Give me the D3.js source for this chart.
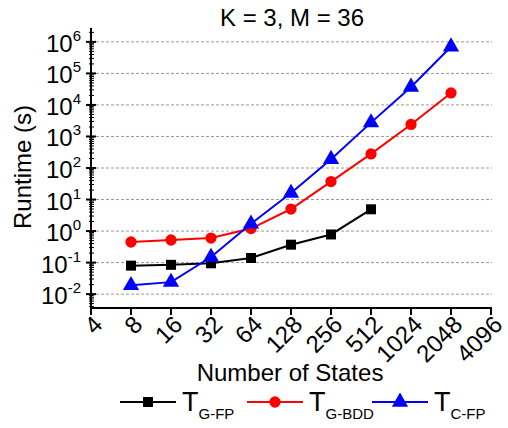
<!DOCTYPE html>
<html>
<head>
<meta charset="utf-8">
<script src="https://cdn.jsdelivr.net/npm/d3@7"></script>
<style>
  body { margin: 0; background: #fff; }
  svg { font-family: Arial, "Liberation Sans", sans-serif; }
</style>
</head>
<body>
<div id="chart"></div>
<script>
// number of states on the x axis
const states = [8, 16, 32, 64, 128, 256, 512, 1024, 2048];
const xTicks = [4, 8, 16, 32, 64, 128, 256, 512, 1024, 2048, 4096];
const yExponents = [-2, -1, 0, 1, 2, 3, 4, 5, 6];

// runtimes in seconds
const tGFP = [0.08, 0.085, 0.095, 0.14, 0.37, 0.78, 4.9];
const tGBDD = [0.45, 0.52, 0.6, 1.2, 5.0, 37, 280, 2400, 24000];
const tCFP = [0.019, 0.024, 0.15, 1.7, 16, 190, 2750, 37000, 700000];

const series = [
  { name: 'G-FP', values: tGFP, color: '#000000', symbol: d3.symbolSquare, size: 100 },
  { name: 'G-BDD', values: tGBDD, color: '#ff0000', symbol: d3.symbolCircle, size: 100 },
  { name: 'C-FP', values: tCFP, color: '#0000ff', symbol: d3.symbolTriangle, size: 115 }
];

const width = 508;
const height = 428;

const svg = d3.select('#chart')
  .append('svg')
  .attr('width', width)
  .attr('height', height);

const x = d3.scaleLog().base(2)
  .domain([4, 4096])
  .range([91, 491]);

const y = d3.scaleLog()
  .domain([Math.pow(10, -2.44), Math.pow(10, 6.44)])
  .range([308, 28]);

// dashed grid
svg.append('g')
  .selectAll('line')
  .data(yExponents)
  .enter()
  .append('line')
  .attr('x1', 91)
  .attr('x2', 492)
  .attr('y1', d => y(Math.pow(10, d)))
  .attr('y2', d => y(Math.pow(10, d)))
  .attr('stroke', '#999')
  .attr('stroke-width', 1)
  .attr('stroke-dasharray', '3,2');

// y axis with minor ticks
const minor = [];
for (let e = -3; e <= 6; e++) {
  for (let m = 2; m <= 9; m++) {
    const v = m * Math.pow(10, e);
    if (y(v) <= 308 && y(v) >= 28) minor.push(v);
  }
}

const yAxis = svg.append('g');
yAxis.append('line')
  .attr('x1', 91).attr('x2', 91)
  .attr('y1', 28).attr('y2', 309)
  .attr('stroke', '#000').attr('stroke-width', 2);

yAxis.selectAll('.minor')
  .data(minor)
  .enter()
  .append('line')
  .attr('class', 'minor')
  .attr('x1', 89).attr('x2', 94)
  .attr('y1', d => y(d)).attr('y2', d => y(d))
  .attr('stroke', '#000').attr('stroke-width', 1);

yAxis.selectAll('.major')
  .data(yExponents)
  .enter()
  .append('line')
  .attr('class', 'major')
  .attr('x1', 86).attr('x2', 96)
  .attr('y1', d => y(Math.pow(10, d))).attr('y2', d => y(Math.pow(10, d)))
  .attr('stroke', '#000').attr('stroke-width', 2);

const yLabels = yAxis.selectAll('.ylab')
  .data(yExponents)
  .enter()
  .append('text')
  .attr('class', 'ylab')
  .attr('x', 81)
  .attr('y', d => y(Math.pow(10, d)) + 10)
  .attr('text-anchor', 'end')
  .attr('fill', '#000');

yLabels.append('tspan')
  .attr('font-size', 24)
  .text('10');

yLabels.append('tspan')
  .attr('font-size', 15)
  .attr('dy', -11)
  .text(d => d);

// x axis
const xAxis = svg.append('g');
xAxis.append('line')
  .attr('x1', 90).attr('x2', 492)
  .attr('y1', 308).attr('y2', 308)
  .attr('stroke', '#000').attr('stroke-width', 2);

xAxis.selectAll('.xtick')
  .data(xTicks)
  .enter()
  .append('line')
  .attr('class', 'xtick')
  .attr('x1', d => x(d)).attr('x2', d => x(d))
  .attr('y1', 308).attr('y2', 315)
  .attr('stroke', '#000').attr('stroke-width', 2);

xAxis.selectAll('.xlab')
  .data(xTicks)
  .enter()
  .append('text')
  .attr('class', 'xlab')
  .attr('text-anchor', 'end')
  .attr('font-size', 24)
  .attr('transform', d => `translate(${x(d) + 13},326) rotate(-45)`)
  .text(d => d);

// titles
svg.append('text')
  .attr('x', 292)
  .attr('y', 26)
  .attr('text-anchor', 'middle')
  .attr('font-size', 24)
  .text('K = 3, M = 36');

svg.append('text')
  .attr('x', 290)
  .attr('y', 381)
  .attr('text-anchor', 'middle')
  .attr('font-size', 24)
  .text('Number of States');

svg.append('text')
  .attr('transform', 'translate(31,167) rotate(-90)')
  .attr('text-anchor', 'middle')
  .attr('font-size', 24)
  .text('Runtime (s)');

// series
const line = d3.line()
  .x(d => x(d.n))
  .y(d => y(d.v));

series.forEach(s => {
  const pts = s.values.map((v, i) => ({ n: states[i], v: v }));
  const g = svg.append('g');

  g.append('path')
    .datum(pts)
    .attr('d', line)
    .attr('fill', 'none')
    .attr('stroke', s.color)
    .attr('stroke-width', 2);

  g.selectAll('path.marker')
    .data(pts)
    .enter()
    .append('path')
    .attr('class', 'marker')
    .attr('d', d3.symbol().type(s.symbol).size(s.size))
    .attr('transform', d => `translate(${x(d.n)},${y(d.v)})`)
    .attr('fill', s.color);
});

// legend
const legendX = [120, 247, 372];
const legend = svg.append('g')
  .selectAll('g')
  .data(series)
  .enter()
  .append('g')
  .attr('transform', (d, i) => `translate(${legendX[i]},402)`);

legend.append('line')
  .attr('x1', 0).attr('x2', 56)
  .attr('y1', 0).attr('y2', 0)
  .attr('stroke', d => d.color)
  .attr('stroke-width', 2);

legend.append('path')
  .attr('d', d => d3.symbol().type(d.symbol).size(d.size)())
  .attr('transform', 'translate(28,0)')
  .attr('fill', d => d.color);

const legendText = legend.append('text')
  .attr('x', 62)
  .attr('y', 9)
  .attr('fill', '#000');

legendText.append('tspan')
  .attr('font-size', 27)
  .text('T');

legendText.append('tspan')
  .attr('font-size', 15)
  .attr('dy', 8)
  .text(d => d.name);
</script>
</body>
</html>
